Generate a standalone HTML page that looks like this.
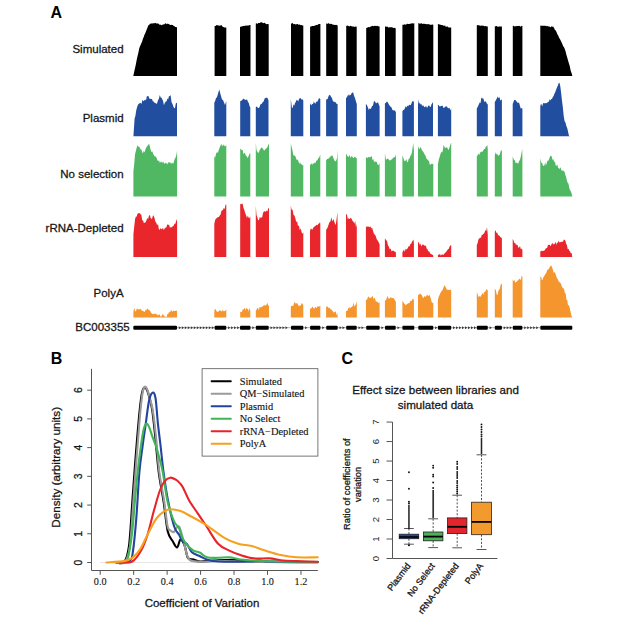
<!DOCTYPE html>
<html><head><meta charset="utf-8"><style>
html,body{margin:0;padding:0;background:#fff;}
body{width:625px;height:620px;position:relative;overflow:hidden;font-family:"Liberation Sans",sans-serif;}
</style></head><body>
<svg width="625" height="620" viewBox="0 0 625 620" style="position:absolute;left:0;top:0">
<path d="M133.3,76 L133.3,76 L134.14,72.04 L134.99,68.2 L135.83,64.39 L136.67,60.08 L137.51,56.27 L138.36,52.68 L139.2,48.6 L139.95,46.49 L140.7,44.68 L141.45,43.11 L142.2,41.2 L142.95,38.82 L143.7,37.02 L144.45,34.87 L145.2,33.16 L145.95,31.5 L146.7,29.39 L147.45,27.87 L148.2,25.6 L149.03,24.89 L149.87,24.07 L150.7,23.6 L151.5,23.52 L152.3,23.41 L153.1,23.15 L153.9,23.26 L154.7,23.29 L155.5,22.66 L156.3,23.85 L157.1,23 L157.95,23.92 L158.8,23.62 L159.65,24.88 L160.5,24.42 L161.35,25.16 L162.2,25.1 L162.96,24.36 L163.72,24.57 L164.48,24.34 L165.24,23.27 L166,23.6 L166.87,24.17 L167.73,23.5 L168.6,23.93 L169.47,24.45 L170.33,25.02 L171.2,24.8 L172.03,25.04 L172.86,24.97 L173.69,26.09 L174.51,26.16 L175.34,26.97 L176.17,27.03 L177,27.6 L177,76 Z M214.6,76 L214.6,26 L215.57,25.88 L216.55,25.04 L217.53,25.2 L218.5,25.48 L219.47,25.83 L220.45,25.5 L221.42,25.12 L222.4,26.4 L223.38,27 L224.35,27.4 L225.33,27.45 L226.3,27.6 L226.3,76 Z M240,76 L240,26.4 L240.88,26.96 L241.75,26.13 L242.62,26.25 L243.5,26 L244.38,26.1 L245.25,25.6 L246.12,25.65 L247,25.6 L247.88,25.4 L248.75,25.4 L249.62,25.12 L250.5,25 L250.5,76 Z M255.8,76 L255.8,23.6 L256.61,23.31 L257.41,24.09 L258.22,23.12 L259.02,23 L259.83,23.02 L260.64,22.17 L261.44,22.27 L262.25,22.5 L263.06,23.14 L263.86,23.03 L264.67,22.85 L265.48,23.5 L266.28,24.15 L267.09,24.09 L267.89,23.88 L268.7,24.3 L268.7,76 Z M291,76 L291,23.3 L291.82,23.87 L292.64,22.82 L293.46,24.13 L294.28,24.04 L295.1,24 L295.92,24.69 L296.74,24.1 L297.56,23.94 L298.38,24.66 L299.2,24.6 L300.02,24.86 L300.84,25.17 L301.66,25.03 L302.48,25.39 L303.3,25.4 L303.3,76 Z M310.1,76 L310.1,26.6 L310.96,26.7 L311.82,25.89 L312.68,26.05 L313.53,26 L314.39,25.78 L315.25,25.5 L316.11,25.03 L316.97,25 L317.82,24.78 L318.68,24.06 L319.54,23.93 L320.4,24.1 L320.4,76 Z M326.2,76 L326.2,23.3 L326.97,23.7 L327.73,23.66 L328.5,22.97 L329.27,23.88 L330.03,23.6 L330.8,24.13 L331.57,23.86 L332.33,24.17 L333.1,25.04 L333.87,24.5 L334.63,24.99 L335.4,24.91 L336.17,24.87 L336.93,25.35 L337.7,25.4 L337.7,76 Z M346.2,76 L346.2,25.9 L346.95,25.76 L347.7,25.6 L348.45,26.03 L349.2,26.43 L349.95,26 L350.7,25.87 L351.45,26.2 L352.2,26.61 L352.95,26.47 L353.7,26.54 L354.45,26.89 L355.2,26.54 L355.95,26.72 L356.7,26.6 L356.7,76 Z M366.2,76 L366.2,27.9 L367.09,27.87 L367.99,27.15 L368.88,26.95 L369.77,27.2 L370.67,26.5 L371.56,26.2 L372.45,25.77 L373.35,26.22 L374.24,25.76 L375.13,25.9 L376.03,25.74 L376.92,26.33 L377.81,25.87 L378.71,26.41 L379.6,26.6 L379.6,76 Z M385,76 L385,26.6 L385.76,26.6 L386.53,26.68 L387.29,26.48 L388.06,27.34 L388.82,27.59 L389.59,27.24 L390.35,27.2 L391.11,27.23 L391.88,27.22 L392.64,27.45 L393.41,27.97 L394.17,28.03 L394.94,27.83 L395.7,28.4 L395.7,76 Z M402.4,76 L402.4,24.8 L403.25,24.68 L404.1,24.66 L404.95,24.01 L405.8,24.99 L406.65,24.01 L407.5,23.68 L408.35,24 L409.2,23.98 L410.05,23.76 L410.9,23.52 L411.75,23.46 L412.6,23.32 L413.45,23.53 L414.3,23.3 L414.3,76 Z M418.3,76 L418.3,23.3 L419.05,22.93 L419.8,24.05 L420.55,23.41 L421.3,22.91 L422.05,23.91 L422.8,23.86 L423.55,23.81 L424.3,23.76 L425.05,23.98 L425.8,24 L426.55,24.21 L427.3,24.26 L428.05,24.01 L428.8,24.27 L429.55,24.43 L430.3,24.8 L431.05,24.84 L431.8,24.72 L432.55,24.41 L433.3,24.8 L433.3,76 Z M437.9,76 L437.9,24.1 L438.79,24.24 L439.67,24.55 L440.56,24.8 L441.45,24.94 L442.33,25 L443.22,25.42 L444.11,26.04 L444.99,25.29 L445.88,26.95 L446.77,26.5 L447.65,26.53 L448.54,27.53 L449.43,27.4 L450.31,27.45 L451.2,27.4 L451.2,76 Z M476.8,76 L476.8,25.4 L477.59,24.97 L478.37,25.36 L479.16,25.21 L479.94,25.86 L480.73,25.72 L481.51,25.55 L482.3,25.8 L483.09,25.46 L483.87,25.94 L484.66,26.18 L485.44,26.05 L486.23,26.3 L487.01,26.53 L487.8,26.6 L487.8,76 Z M494.8,76 L494.8,26.6 L495.59,26.23 L496.38,26 L497.17,26.21 L497.96,27.11 L498.74,26.56 L499.53,26.55 L500.32,26.49 L501.11,26.62 L501.9,26.6 L501.9,76 Z M512.8,76 L512.8,25.9 L513.6,25.66 L514.4,26.48 L515.2,26.22 L516,26.22 L516.8,26.06 L517.6,25.96 L518.4,26.05 L519.2,25.85 L520,26.28 L520.8,26.64 L521.6,25.81 L522.4,25.9 L522.4,76 Z M540.3,76 L540.3,25.4 L541.14,25.68 L541.97,25.84 L542.81,25.78 L543.65,25.83 L544.49,25.74 L545.33,25.8 L546.16,26.32 L547,25.8 L547.76,26.14 L548.52,26.4 L549.29,26.16 L550.05,27.31 L550.81,27.09 L551.58,26.35 L552.34,26.86 L553.1,26.6 L553.97,27.64 L554.83,29.65 L555.7,30.5 L556.53,31.99 L557.37,34.21 L558.2,35.6 L559.07,37.78 L559.93,39.03 L560.8,40.7 L561.56,42.19 L562.32,43.99 L563.08,45.9 L563.84,46.91 L564.6,48.4 L565.47,50.95 L566.33,54.6 L567.2,57.4 L568.07,60.56 L568.93,63.42 L569.8,66.3 L570.63,70.45 L571.47,72.69 L572.3,75.8 L572.3,76 Z" fill="#000000"/>
<path d="M133.4,136.3 L133.4,136.4 L134.6,118.4 L135.4,115.89 L136.2,110.57 L137,107.6 L137.9,104.83 L138.8,103.66 L139.7,103.36 L140.6,102.8 L141.5,103.88 L142.4,99.69 L143.3,101.22 L144.2,100.4 L145.1,99.55 L146,100.51 L146.9,96.02 L147.8,96.3 L148.6,96.32 L149.4,98.76 L150.2,98.7 L151.1,98.95 L152,99.05 L152.9,101.54 L153.8,101.6 L154.6,102.96 L155.4,102.71 L156.2,104 L157.1,103.13 L158,100.33 L158.9,98.81 L159.8,94.9 L160.6,97.45 L161.4,97.55 L162.2,99.2 L163.05,100.72 L163.9,105.2 L164.85,102.7 L165.8,101.6 L166.6,101.28 L167.4,98.45 L168.2,99.2 L169,95.94 L169.8,96.14 L170.6,94.9 L171.55,102.15 L172.5,104 L173.35,106.56 L174.2,108.3 L175,107.89 L175.8,103.58 L176.6,102.8 L177,103 L177,136.3 Z M214.3,136.3 L214.3,102.8 L215.15,100.88 L216,98 L216.82,97.44 L217.65,94.94 L218.48,91.9 L219.3,89.6 L220.15,93.12 L221,96 L222,99.44 L223,100 L224,102.5 L225,105 L226.3,101 L226.3,136.3 Z M240.2,136.3 L240.2,101 L241.13,100.91 L242.07,100.04 L243,99.2 L243.75,98.56 L244.5,99.4 L245.25,99.72 L246,100 L247,99.13 L248,102 L248.77,103.08 L249.53,105.96 L250.3,107.6 L250.3,136.3 Z M255.8,136.3 L255.8,106.9 L256.9,106.45 L258,108 L258.75,108.09 L259.5,107.14 L260.25,104.67 L261,104 L261.88,103.68 L262.76,101.89 L263.64,101.51 L264.52,98.72 L265.4,98 L266.17,97.54 L266.95,98.08 L267.73,98.32 L268.5,100.4 L268.5,136.3 Z M290.8,136.3 L290.8,98.7 L292,108.3 L292.75,107.53 L293.5,104.26 L294.25,105.68 L295,103 L295.8,102.12 L296.6,99.76 L297.4,100.21 L298.2,101.56 L299,99 L299.75,98.18 L300.5,98 L301.43,99.39 L302.37,99.26 L303.3,100.4 L303.3,136.3 Z M310,136.3 L310,105.2 L310.75,103.32 L311.5,105.44 L312.25,104.07 L313,104 L313.8,101.45 L314.6,103.1 L315.4,103.79 L316.2,101.42 L317,102 L318,100.6 L319,98 L320.3,99 L320.3,136.3 Z M326.1,136.3 L326.1,99.2 L326.96,99.43 L327.82,98.39 L328.68,95.86 L329.54,94.85 L330.4,95.6 L331.2,97 L332,98 L333,101.39 L334,101.6 L334.9,102.2 L335.8,102.13 L336.7,104.08 L337.6,104 L337.6,136.3 Z M346,136.3 L346,98 L346.75,97.56 L347.5,95.9 L348.25,94.21 L349,96 L349.84,94.54 L350.68,95.25 L351.52,93.2 L352.36,92.48 L353.2,92.5 L354.1,96.09 L355,98 L355.9,101.21 L356.8,104 L356.8,136.3 Z M365.9,136.3 L365.9,104 L366.87,104.97 L367.83,107.25 L368.8,110 L369.6,108.34 L370.4,108.94 L371.2,108.28 L372,106 L372.93,105.86 L373.87,101.5 L374.8,101.1 L375.9,103.3 L377,103 L377.87,101.89 L378.73,104.25 L379.6,106.4 L379.6,136.3 Z M384.9,136.3 L384.9,103.5 L385.85,102.68 L386.8,101.5 L387.6,102.04 L388.4,103.59 L389.2,104.93 L390,106 L390.75,107.03 L391.5,107.17 L392.25,109.81 L393,110 L393.97,110.68 L394.93,110.26 L395.9,112.4 L395.9,136.3 Z M402.4,136.3 L402.4,111.2 L403.27,110.06 L404.13,109.79 L405,108 L405.8,106.03 L406.6,107.54 L407.4,105.51 L408.2,106.2 L409,105 L409.84,104.64 L410.68,105.17 L411.52,103.18 L412.36,101.13 L413.2,101.1 L413.9,102 L413.9,136.3 Z M418,136.3 L418,99.2 L419,104 L419.8,102.43 L420.6,104.51 L421.4,104.02 L422.2,106.35 L423,105 L423.8,106.26 L424.6,107.24 L425.4,106.81 L426.2,105.98 L427,108 L427.75,106.87 L428.5,105.4 L429.25,105.38 L430,107 L430.75,106.73 L431.5,104.34 L432.25,103.15 L433,102 L433,136.3 Z M437.9,136.3 L437.9,104.6 L438.67,105.17 L439.45,106.19 L440.23,106.5 L441,106 L441.83,105.64 L442.67,105.68 L443.5,107.92 L444.33,107.69 L445.17,106.2 L446,107 L446.87,106.04 L447.73,107.95 L448.6,108.29 L449.47,107.68 L450.33,110.4 L451.2,108.4 L451.2,136.3 Z M476.8,136.3 L476.8,108.4 L477.9,106.52 L479,104 L479.75,102.24 L480.5,103.14 L481.25,98.22 L482,97.6 L482.75,98.67 L483.5,98.49 L484.25,102.2 L485,101 L485.93,101.77 L486.87,103.6 L487.8,104.6 L487.8,136.3 Z M494.8,136.3 L494.8,102 L495.9,100.24 L497,98 L497.83,96.54 L498.67,98.32 L499.5,96.9 L500.3,100.76 L501.1,99.41 L501.9,100 L501.9,136.3 Z M512.7,136.3 L512.7,104 L513.47,102.02 L514.23,100.11 L515,100 L515.75,100.21 L516.5,101.53 L517.25,102.22 L518,103 L519,102.61 L520,106 L520.8,108.87 L521.6,107.89 L522.4,108.4 L522.4,136.3 Z M540.3,136.3 L540.3,105.8 L541.22,103.47 L542.15,106.52 L543.08,103.27 L544,103 L544.8,103.46 L545.6,102.94 L546.4,103.37 L547.2,102.82 L548,102 L548.8,101.69 L549.6,99.36 L550.4,100.45 L551.2,99.03 L552,99 L552.8,96.98 L553.6,96.04 L554.4,93.7 L555.2,92.3 L556,90 L556.88,87.83 L557.75,85.81 L558.62,83.26 L559.5,82.8 L560.33,86.58 L561.17,93.14 L562,100.7 L562.87,107.47 L563.73,116.16 L564.6,121.2 L565.47,122.62 L566.33,126.11 L567.2,128.12 L568.07,131.72 L568.93,135.8 L569.8,136.3 L569.8,136.3 Z" fill="#224ea0"/>
<path d="M133.4,196.4 L133.4,171.2 L134.2,164.34 L135,154.4 L135.83,150.92 L136.67,147.79 L137.5,145.3 L138.28,146.62 L139.05,146.76 L139.82,147.72 L140.6,149.6 L141.4,149.5 L142.2,152.34 L143,153.2 L143.8,150.87 L144.6,152.56 L145.4,149.6 L146.3,147.59 L147.2,146.05 L148.1,145.28 L149,143.6 L149.8,146.37 L150.6,149.81 L151.4,152 L152.3,151.14 L153.2,154.12 L154.1,155.52 L155,156.8 L155.8,156.16 L156.6,157.97 L157.4,160.21 L158.2,161.37 L159,160.18 L159.8,162.8 L160.6,162.04 L161.4,161.54 L162.2,163.19 L163,161.32 L163.8,162.71 L164.6,163.91 L165.4,162.45 L166.2,163.69 L167,162.8 L167.75,164.41 L168.5,162.02 L169.25,162.3 L170,162.58 L170.75,163.01 L171.5,163.75 L172.25,162.34 L173,164 L173.8,162.24 L174.6,159.19 L175.4,158 L176.25,155.51 L177.1,150.8 L177.1,196.4 Z M214.3,196.4 L214.3,156.3 L215.2,157.41 L216.1,153.42 L217,152 L217.82,152.96 L218.65,150.29 L219.48,148.08 L220.3,146 L221.2,143.81 L222.1,145.93 L223,145.5 L223.82,144.58 L224.65,146.26 L225.48,146.19 L226.3,144.8 L226.3,196.4 Z M240.2,196.4 L240.2,148.4 L241.1,149.45 L242,150 L242.75,150.33 L243.5,154.38 L244.25,152.65 L245,153.2 L245.8,155.56 L246.6,155.92 L247.4,158 L248.37,156.86 L249.33,153.95 L250.3,153.2 L250.3,196.4 Z M255.8,196.4 L255.8,142.9 L256.5,150 L257.35,151.7 L258.2,153.2 L259.1,151.54 L260,149.56 L260.9,148.18 L261.8,147.2 L262.6,148.23 L263.4,149.4 L264.2,150.8 L265.13,149.55 L266.07,148.51 L267,148 L268,145.39 L269,143.6 L269,196.4 Z M290.8,196.4 L290.8,142.9 L291.6,146.89 L292.4,150.07 L293.2,154.4 L294,155.65 L294.8,155.39 L295.6,156.8 L296.5,159.74 L297.4,159.52 L298.3,160.83 L299.2,164 L300.02,162.01 L300.84,164.15 L301.66,164.18 L302.48,165.3 L303.3,165.2 L303.3,196.4 Z M310,196.4 L310,165.2 L310.75,164.32 L311.5,163.31 L312.25,164.9 L313,162.94 L313.75,164 L314.5,162.59 L315.25,163.32 L316,161.6 L316.75,160.37 L317.5,160.29 L318.25,157.91 L319,158 L320.3,154.4 L320.3,196.4 Z M326.1,196.4 L326.1,160.4 L326.89,159.36 L327.67,158.74 L328.46,158.5 L329.24,158.17 L330.03,156.14 L330.81,156.87 L331.6,155.6 L332.5,155.54 L333.4,158.01 L334.3,160.16 L335.2,161.6 L336.1,160.71 L337,158 L337.6,150 L337.6,196.4 Z M346,196.4 L346,153.2 L347,155.58 L348,156.8 L348.8,156.73 L349.6,154.67 L350.4,157.99 L351.2,156.61 L352,156 L352.8,157.42 L353.6,158.19 L354.4,157.12 L355.2,156.43 L356,158.16 L356.8,158 L356.8,196.4 Z M365.9,196.4 L365.9,158 L366.72,157.09 L367.54,158.19 L368.36,156.78 L369.18,157.6 L370,157 L370.83,157.04 L371.67,155.73 L372.5,159.92 L373.33,159.06 L374.17,162.3 L375,161 L375.85,162.19 L376.7,161.7 L377.55,164.5 L378.4,165.2 L379.6,163 L379.6,196.4 Z M384.9,196.4 L384.9,153.2 L386,160 L386.8,158.91 L387.6,158.42 L388.4,159.02 L389.2,160.18 L390,160.4 L390.75,160.03 L391.5,159.45 L392.25,158.94 L393,158 L393.97,157.37 L394.93,156.99 L395.9,154.4 L395.9,196.4 Z M402.4,196.4 L402.4,155.6 L403.2,157.26 L404,160 L404.8,161.31 L405.6,160.81 L406.4,159.1 L407.2,162.43 L408,161.6 L408.8,158.44 L409.6,158.51 L410.4,155.75 L411.2,154.93 L412,152 L413.2,142.9 L413.9,150 L413.9,196.4 Z M418,196.4 L418,146 L418.9,148.66 L419.8,148.77 L420.7,146.84 L421.6,149.6 L422.45,151.08 L423.3,151.85 L424.15,153.43 L425,155 L425.75,156.26 L426.5,158.75 L427.25,159.34 L428,160.5 L428.93,160.73 L429.87,165.04 L430.8,164.3 L431.63,163.86 L432.47,163.78 L433.3,164.3 L433.3,196.4 Z M437.9,196.4 L437.9,164.3 L438.77,159.55 L439.63,157.06 L440.5,154 L441.26,151.5 L442.02,152.78 L442.78,150.8 L443.54,145.11 L444.3,146.4 L445.08,147.89 L445.86,147.75 L446.64,147.19 L447.42,147.87 L448.2,150.2 L449.13,148.57 L450.07,145.45 L451,143 L451.2,143 L451.2,196.4 Z M476.8,196.4 L476.8,155.4 L477.57,155.82 L478.33,153.2 L479.1,155.37 L479.87,153.29 L480.63,151.99 L481.4,151.5 L482.3,151.93 L483.2,150.41 L484.1,149.12 L485,149 L485.8,146.57 L486.6,146.59 L487.4,145.1 L487.8,150 L487.8,196.4 Z M494.8,196.4 L494.8,155.4 L495.64,152.31 L496.48,154.38 L497.32,153.69 L498.16,156.03 L499,155 L499.83,154.43 L500.67,150.94 L501.5,149.7 L501.9,152 L501.9,196.4 Z M512.7,196.4 L512.7,156.6 L514,160 L514.83,160.21 L515.65,163.21 L516.47,162.53 L517.3,163 L518.2,163.66 L519.1,160.93 L520,160 L521.1,155.21 L522.2,149 L522.4,156 L522.4,196.4 Z M540.3,196.4 L540.3,157.9 L541.17,162.68 L542.03,162.6 L542.9,165.6 L543.66,166.04 L544.42,165.35 L545.18,162.16 L545.94,165.69 L546.7,163 L547.56,160.48 L548.42,160.79 L549.28,158.45 L550.14,156.2 L551,155.4 L551.78,156.68 L552.57,159.91 L553.35,158.99 L554.13,162.3 L554.92,161.14 L555.7,165.6 L556.53,165.69 L557.37,164.48 L558.2,168.2 L558.98,168.11 L559.76,169.37 L560.54,166.97 L561.32,169.99 L562.1,170.8 L562.93,170.44 L563.77,170.93 L564.6,172 L565.37,174.94 L566.14,177.24 L566.91,180.62 L567.68,183.02 L568.45,183.62 L569.22,187.72 L569.99,190.1 L570.76,191.36 L571.53,193.35 L572.3,196.4 L572.3,196.4 Z" fill="#50b862"/>
<path d="M133.4,256.9 L133.4,234.6 L134.25,225.92 L135.1,219 L135.88,216.59 L136.65,216.8 L137.42,213.96 L138.2,213 L139,213.6 L139.8,212.88 L140.6,214.2 L141.4,215.06 L142.2,220.58 L143,220.2 L143.8,223.01 L144.6,222.72 L145.4,222.6 L146.3,220.72 L147.2,217.92 L148.1,218.89 L149,215.4 L149.8,215.11 L150.6,217.74 L151.4,219 L152.2,218.21 L153,215.16 L153.8,216.1 L154.6,218.14 L155.4,221.76 L156.2,222.6 L157.1,225.28 L158,223.99 L158.9,229.37 L159.8,229.8 L160.6,228.06 L161.4,229.26 L162.2,228.98 L163,227.8 L163.8,230.15 L164.6,228.6 L165.5,227.72 L166.4,227.21 L167.3,224.27 L168.2,225 L169.1,224.5 L170,228.06 L170.9,226.75 L171.8,227.4 L172.7,226.22 L173.6,225.69 L174.5,223.66 L175.4,223.8 L176.6,219 L177.1,222 L177.1,256.9 Z M214.3,256.9 L214.3,223.8 L215.2,219.67 L216.1,218.46 L217,218 L217.93,216.97 L218.87,217.11 L219.8,215.4 L220.6,214.6 L221.4,210.96 L222.2,210.22 L223,210 L223.82,207.67 L224.65,209.24 L225.48,204.71 L226.3,204.6 L226.3,256.9 Z M240.2,256.9 L240.2,204.6 L241,203.43 L241.8,204.34 L242.6,203.4 L243.5,208.09 L244.4,210.18 L245.3,213.31 L246.2,215.4 L247,217.95 L247.8,215.49 L248.6,217.8 L249.45,217.91 L250.3,216.6 L250.3,256.9 Z M255.8,256.9 L255.8,205.8 L256.5,215 L257.35,217.34 L258.2,220.2 L259,220.07 L259.8,217.07 L260.6,217.85 L261.4,217.5 L262.2,217.14 L263,213 L263.9,211.45 L264.8,211.28 L265.7,211.84 L266.6,210.6 L267.4,211.42 L268.2,208.17 L269,208.2 L269,256.9 Z M290.8,256.9 L290.8,205.8 L291.7,209.86 L292.6,209.76 L293.5,214.85 L294.4,215.4 L295.3,217.92 L296.2,221.91 L297.1,221.14 L298,226.2 L298.9,225.36 L299.8,230.3 L300.7,228.19 L301.6,232.2 L302.45,233.71 L303.3,232.2 L303.3,256.9 Z M310,256.9 L310,231 L310.8,228.61 L311.6,228.97 L312.4,229.65 L313.2,227.86 L314,226.97 L314.8,226.2 L315.7,225.78 L316.6,224.66 L317.5,225.22 L318.4,223.8 L319.2,223.59 L320,222 L320.3,223.8 L320.3,256.9 Z M326.1,256.9 L326.1,229.8 L326.96,228.68 L327.82,226.95 L328.68,224.14 L329.54,221.97 L330.4,221.4 L331.37,217.21 L332.33,221.61 L333.3,219 L334.1,221.1 L334.9,223.49 L335.7,225 L336.55,219.2 L337.4,212.3 L337.6,225 L337.6,256.9 Z M346,256.9 L346,214.2 L346.9,214.48 L347.8,219 L348.7,218.16 L349.6,219 L350.8,217.8 L351.7,218.95 L352.6,220.92 L353.5,221.83 L354.4,223.8 L355.2,220.81 L356,227.48 L356.8,223.8 L356.8,256.9 Z M365.9,256.9 L365.9,226.2 L366.66,226.95 L367.41,226.51 L368.17,226.13 L368.93,227.08 L369.69,226.88 L370.44,226.23 L371.2,228.6 L372.1,227.61 L373,230.65 L373.9,233.65 L374.8,234.6 L375.7,235.98 L376.6,238.92 L377.5,240.27 L378.4,241.8 L379.6,244.2 L379.6,256.9 Z M384.9,256.9 L384.9,238.2 L386,240 L387,240.93 L388,245.4 L388.9,246.81 L389.8,249.54 L390.7,248.42 L391.6,251.4 L392.46,250.76 L393.32,250.59 L394.18,251.46 L395.04,251.4 L395.9,252.6 L395.9,256.9 Z M402.4,256.9 L402.4,252.6 L403.2,250.86 L404,249.53 L404.8,251.94 L405.6,248.76 L406.4,249.4 L407.2,249 L408,247.4 L408.8,246 L409.6,246.52 L410.4,243.93 L411.2,243.72 L412,241.8 L413.4,239.4 L413.9,243 L413.9,256.9 Z M418,256.9 L418,243 L418.8,241.66 L419.6,244.94 L420.4,243.31 L421.2,246.48 L422,245.2 L422.8,244.2 L423.57,244.91 L424.33,245.19 L425.1,246.2 L425.88,245.26 L426.66,248.69 L427.44,249.12 L428.22,251.38 L429,251 L429.76,252.48 L430.52,253.64 L431.28,254.17 L432.04,254.25 L432.8,255.2 L433.3,255.2 L433.3,256.9 Z M437.9,256.9 L437.9,254.4 L438.68,255.08 L439.46,253.85 L440.24,255.75 L441.02,254.11 L441.8,255.2 L442.56,254.18 L443.32,255.09 L444.08,254.07 L444.84,253.09 L445.6,252.6 L446.4,251.42 L447.2,250.2 L448,249.31 L448.8,248.76 L449.6,246.6 L450.4,245.59 L451.2,245 L451.2,256.9 Z M476.8,256.9 L476.8,245 L477.65,242.94 L478.5,239.15 L479.35,238.55 L480.2,237.2 L480.96,238.19 L481.72,234.64 L482.48,235.03 L483.24,234.07 L484,233.4 L484.75,231.93 L485.5,229.86 L486.25,231.25 L487,227 L487.8,235 L487.8,256.9 Z M494.8,256.9 L494.8,232.1 L495.6,229.95 L496.4,233.08 L497.2,232.51 L498,234.7 L498.78,235.41 L499.56,235.73 L500.34,237.3 L501.12,237.37 L501.9,238.5 L501.9,256.9 Z M512.7,256.9 L512.7,239 L513.53,240.56 L514.35,242.91 L515.17,243.06 L516,245 L516.8,244.56 L517.6,245.23 L518.4,247.77 L519.2,247.55 L520,245.92 L520.8,249.28 L521.6,248.6 L522.4,250 L522.4,256.9 Z M540.3,256.9 L540.3,251.3 L541.11,251.31 L541.93,250.52 L542.74,251.31 L543.56,250.67 L544.37,250.61 L545.19,249.45 L546,248 L547,248.2 L548,244.9 L548.85,244.8 L549.7,244.69 L550.55,246.2 L551.4,244.54 L552.25,242.64 L553.1,244.2 L553.9,244.19 L554.7,243.86 L555.5,241.67 L556.3,244.98 L557.1,242.2 L557.9,243.05 L558.7,240.53 L559.5,242.4 L560.35,242.36 L561.2,241.69 L562.05,241.67 L562.9,241.72 L563.75,239.64 L564.6,239.8 L565.38,240.67 L566.16,243.74 L566.94,245.28 L567.72,249.29 L568.5,248.8 L569.26,250.73 L570.02,251.25 L570.78,253.32 L571.54,252.81 L572.3,257 L572.3,256.9 Z" fill="#e9262b"/>
<path d="M133.4,317.5 L133.4,311.6 L134.3,307.89 L135.2,311.4 L136.1,310.75 L137,308 L137.8,309.58 L138.6,309.32 L139.4,309.2 L140.3,308.79 L141.2,309.65 L142.1,311 L143,310.4 L143.9,311.65 L144.8,311.74 L145.7,309.38 L146.6,309.9 L147.5,308.23 L148.4,309.84 L149.3,309.95 L150.2,310.9 L151,312.69 L151.8,313.43 L152.6,314 L153.4,314.17 L154.2,314.01 L155,313.36 L155.8,314.26 L156.6,314.33 L157.4,314.7 L158.15,315.77 L158.9,314.24 L159.65,314.51 L160.4,316.16 L161.15,316.9 L161.9,315.11 L162.65,314.05 L163.4,315.2 L164.2,315.61 L165,317 L165.8,316.4 L166.6,317 L167.4,313.97 L168.2,314 L169.1,311.57 L170,312.77 L170.9,310.15 L171.8,310.4 L172.6,311.96 L173.4,310.47 L174.2,310.9 L175.17,311.1 L176.13,310.3 L177.1,311.6 L177.1,317.5 Z M214.3,317.5 L214.3,310.4 L215.23,308.73 L216.15,310.52 L217.07,311.67 L218,312 L219,310.75 L220,310 L220.75,311.11 L221.5,311.8 L222.25,309.62 L223,311.6 L223.82,310.66 L224.65,311.23 L225.48,310.52 L226.3,309 L226.3,317.5 Z M240.2,317.5 L240.2,311.6 L241,311.88 L241.8,312.31 L242.6,309.51 L243.4,309.62 L244.2,308.42 L245,308 L245.76,310.61 L246.51,307.54 L247.27,309.25 L248.03,308.81 L248.79,311.87 L249.54,307.72 L250.3,310.4 L250.3,317.5 Z M255.8,317.5 L255.8,310.4 L256.55,309.87 L257.3,308.12 L258.05,307.75 L258.8,310.57 L259.55,307.32 L260.3,307.11 L261.05,307.44 L261.8,306.8 L262.6,306.51 L263.4,305.71 L264.2,304.68 L265,305.86 L265.8,305.53 L266.6,304.4 L267.4,302.63 L268.2,305.73 L269,305.6 L269,317.5 Z M290.8,317.5 L290.8,306.8 L291.6,305.69 L292.4,305.86 L293.2,306.07 L294,303.22 L294.8,301.86 L295.6,303.7 L296.48,303.26 L297.36,303.28 L298.24,305.12 L299.12,306.41 L300,305 L300.82,305.75 L301.65,303.29 L302.48,303.52 L303.3,305.6 L303.3,317.5 Z M310,317.5 L310,308 L310.83,309.02 L311.67,307.73 L312.5,306.4 L313.33,307.79 L314.17,309.2 L315,307 L315.76,307.37 L316.51,308.18 L317.27,306.84 L318.03,305.74 L318.79,307.12 L319.54,306.21 L320.3,305.6 L320.3,317.5 Z M326.1,317.5 L326.1,306.8 L326.96,306.62 L327.82,306.86 L328.68,308.17 L329.54,307.61 L330.4,309.2 L331.3,309.18 L332.2,310.74 L333.1,311.45 L334,312.8 L334.9,311.66 L335.8,311.55 L336.7,315.56 L337.6,312.8 L337.6,317.5 Z M346,317.5 L346,310.4 L346.75,311.2 L347.5,310.71 L348.25,307.4 L349,308.91 L349.75,306.83 L350.5,308.28 L351.25,306.91 L352,306.8 L352.8,306.12 L353.6,302.53 L354.4,306.66 L355.2,305.2 L356,304 L356.8,300.8 L356.8,317.5 Z M365.9,317.5 L365.9,299.6 L366.66,299.88 L367.41,298.81 L368.17,296.28 L368.93,297.34 L369.69,297.82 L370.44,298.33 L371.2,297.2 L371.96,297.03 L372.72,295.68 L373.48,299.48 L374.24,297.56 L375,298.4 L375.85,301.61 L376.7,301.51 L377.55,301.67 L378.4,303.2 L379.6,302 L379.6,317.5 Z M384.9,317.5 L384.9,299.6 L385.75,300.84 L386.6,298.62 L387.45,295.87 L388.3,298.19 L389.15,298.4 L390,298.4 L390.75,296.84 L391.5,298.09 L392.25,298.11 L393,298 L393.97,298.58 L394.93,300.32 L395.9,302 L395.9,317.5 Z M402.4,317.5 L402.4,300.8 L403.3,301.88 L404.2,303.44 L405.1,304.38 L406,305.6 L406.8,304.11 L407.6,303.82 L408.4,303.02 L409.2,303.55 L410,301.58 L410.8,300.8 L411.57,300.97 L412.35,298.86 L413.12,299.89 L413.9,297.9 L413.9,317.5 Z M418,317.5 L418,294.8 L419,294.86 L420,293.4 L420.76,293.95 L421.52,295.08 L422.28,295.98 L423.04,298.17 L423.8,297.2 L424.67,295.88 L425.53,296.92 L426.4,295.73 L427.27,294.4 L428.13,296.32 L429,295.4 L429.76,294.97 L430.52,297.83 L431.28,300.45 L432.04,303.33 L432.8,302.4 L433.3,302.4 L433.3,317.5 Z M437.9,317.5 L437.9,299.8 L438.68,296.67 L439.46,295.34 L440.24,293.33 L441.02,291.96 L441.8,290.8 L442.55,290.09 L443.3,288.05 L444.05,286.13 L444.8,285.2 L445.9,287.66 L447,290 L447.84,289.54 L448.68,289.9 L449.52,290.01 L450.36,289.57 L451.2,290.8 L451.2,317.5 Z M476.8,317.5 L476.8,292.1 L477.6,294.16 L478.4,297.2 L479.2,295.72 L480,296.95 L480.8,296.21 L481.6,294.65 L482.4,292.85 L483.2,295.08 L484,292.1 L484.76,292.13 L485.52,291.14 L486.28,288.64 L487.04,290.4 L487.8,289.6 L487.8,317.5 Z M494.8,317.5 L494.8,288.3 L495.8,290.34 L496.8,294.7 L497.6,295.01 L498.4,290.72 L499.2,289.77 L500,288 L500.95,283.47 L501.9,284.4 L501.9,317.5 Z M512.7,317.5 L512.7,279.3 L513.53,281.19 L514.35,279.79 L515.17,282.69 L516,281.9 L516.8,281.85 L517.6,280.53 L518.4,280.17 L519.2,278.74 L520,279 L520.8,280.23 L521.6,275.65 L522.4,276.8 L522.4,317.5 Z M540.3,317.5 L540.3,276.8 L541.15,276.83 L542,280.6 L542.78,279.13 L543.57,276.86 L544.35,276.02 L545.13,274.25 L545.92,273.75 L546.7,271.6 L547.58,269.62 L548.46,269.39 L549.34,267.69 L550.22,266.45 L551.1,265.2 L552.1,267.27 L553.1,270.4 L553.88,273.3 L554.66,271.83 L555.44,273.48 L556.22,276.37 L557,278 L557.76,279.25 L558.52,281.16 L559.28,281.81 L560.04,283.08 L560.8,283.2 L561.67,285.96 L562.53,287.84 L563.4,288.3 L564.16,289.52 L564.92,292.95 L565.68,293.59 L566.44,299.83 L567.2,299.8 L568.05,305.78 L568.9,304.67 L569.75,308.34 L570.6,311.96 L571.45,315.74 L572.3,317.5 L572.3,317.5 Z" fill="#f4952d"/>
<line x1="177" y1="327.7" x2="540.3" y2="327.7" stroke="#777" stroke-width="0.6"/>
<path d="M178.8,326.2 L181,327.7 L178.8,329.2 Z M181.8,326.2 L184,327.7 L181.8,329.2 Z M184.8,326.2 L187,327.7 L184.8,329.2 Z M187.8,326.2 L190,327.7 L187.8,329.2 Z M190.8,326.2 L193,327.7 L190.8,329.2 Z M193.8,326.2 L196,327.7 L193.8,329.2 Z M196.8,326.2 L199,327.7 L196.8,329.2 Z M199.8,326.2 L202,327.7 L199.8,329.2 Z M202.8,326.2 L205,327.7 L202.8,329.2 Z M205.8,326.2 L208,327.7 L205.8,329.2 Z M208.8,326.2 L211,327.7 L208.8,329.2 Z M211.8,326.2 L214,327.7 L211.8,329.2 Z M228.1,326.2 L230.3,327.7 L228.1,329.2 Z M231.1,326.2 L233.3,327.7 L231.1,329.2 Z M234.1,326.2 L236.3,327.7 L234.1,329.2 Z M237.1,326.2 L239.3,327.7 L237.1,329.2 Z M252.3,326.2 L254.5,327.7 L252.3,329.2 Z M270.5,326.2 L272.7,327.7 L270.5,329.2 Z M273.5,326.2 L275.7,327.7 L273.5,329.2 Z M276.5,326.2 L278.7,327.7 L276.5,329.2 Z M279.5,326.2 L281.7,327.7 L279.5,329.2 Z M282.5,326.2 L284.7,327.7 L282.5,329.2 Z M285.5,326.2 L287.7,327.7 L285.5,329.2 Z M305.1,326.2 L307.3,327.7 L305.1,329.2 Z M322.2,326.2 L324.4,327.7 L322.2,329.2 Z M339.5,326.2 L341.7,327.7 L339.5,329.2 Z M342.5,326.2 L344.7,327.7 L342.5,329.2 Z M358.5,326.2 L360.7,327.7 L358.5,329.2 Z M361.5,326.2 L363.7,327.7 L361.5,329.2 Z M381.4,326.2 L383.6,327.7 L381.4,329.2 Z M397.5,326.2 L399.7,327.7 L397.5,329.2 Z M435.1,326.2 L437.3,327.7 L435.1,329.2 Z M453,326.2 L455.2,327.7 L453,329.2 Z M456,326.2 L458.2,327.7 L456,329.2 Z M459,326.2 L461.2,327.7 L459,329.2 Z M462,326.2 L464.2,327.7 L462,329.2 Z M465,326.2 L467.2,327.7 L465,329.2 Z M468,326.2 L470.2,327.7 L468,329.2 Z M471,326.2 L473.2,327.7 L471,329.2 Z M474,326.2 L476.2,327.7 L474,329.2 Z M489.6,326.2 L491.8,327.7 L489.6,329.2 Z M503.7,326.2 L505.9,327.7 L503.7,329.2 Z M506.7,326.2 L508.9,327.7 L506.7,329.2 Z M509.7,326.2 L511.9,327.7 L509.7,329.2 Z M524.2,326.2 L526.4,327.7 L524.2,329.2 Z M527.2,326.2 L529.4,327.7 L527.2,329.2 Z M530.2,326.2 L532.4,327.7 L530.2,329.2 Z M533.2,326.2 L535.4,327.7 L533.2,329.2 Z M536.2,326.2 L538.4,327.7 L536.2,329.2 Z" fill="#3a3a3a"/>
<rect x="133.3" y="325.7" width="43.7" height="4" rx="1" fill="#000"/>
<rect x="214.6" y="325.7" width="11.7" height="4" rx="1" fill="#000"/>
<rect x="240" y="325.7" width="10.5" height="4" rx="1" fill="#000"/>
<rect x="255.8" y="325.7" width="12.9" height="4" rx="1" fill="#000"/>
<rect x="291" y="325.7" width="12.3" height="4" rx="1" fill="#000"/>
<rect x="310.1" y="325.7" width="10.3" height="4" rx="1" fill="#000"/>
<rect x="326.2" y="325.7" width="11.5" height="4" rx="1" fill="#000"/>
<rect x="346.2" y="325.7" width="10.5" height="4" rx="1" fill="#000"/>
<rect x="366.2" y="325.7" width="13.4" height="4" rx="1" fill="#000"/>
<rect x="385" y="325.7" width="10.7" height="4" rx="1" fill="#000"/>
<rect x="402.4" y="325.7" width="11.9" height="4" rx="1" fill="#000"/>
<rect x="418.3" y="325.7" width="15" height="4" rx="1" fill="#000"/>
<rect x="437.9" y="325.7" width="13.3" height="4" rx="1" fill="#000"/>
<rect x="476.8" y="325.7" width="11" height="4" rx="1" fill="#000"/>
<rect x="494.8" y="325.7" width="7.1" height="4" rx="1" fill="#000"/>
<rect x="512.8" y="325.7" width="9.6" height="4" rx="1" fill="#000"/>
<rect x="540.3" y="325.7" width="32" height="4" rx="1" fill="#000"/>
<text x="50.6" y="17.5" font-family='"Liberation Sans", sans-serif' font-size="16" font-weight="bold" text-anchor="start" fill="#000" >A</text>
<text x="123.6" y="52.9" font-family='"Liberation Sans", sans-serif' font-size="11.5" font-weight="normal" text-anchor="end" fill="#161616" stroke="#161616" stroke-width="0.28" >Simulated</text>
<text x="123.6" y="121.8" font-family='"Liberation Sans", sans-serif' font-size="11.5" font-weight="normal" text-anchor="end" fill="#161616" stroke="#161616" stroke-width="0.28" >Plasmid</text>
<text x="123.6" y="178.2" font-family='"Liberation Sans", sans-serif' font-size="11.5" font-weight="normal" text-anchor="end" fill="#161616" stroke="#161616" stroke-width="0.28" >No selection</text>
<text x="123.6" y="232" font-family='"Liberation Sans", sans-serif' font-size="11.5" font-weight="normal" text-anchor="end" fill="#161616" stroke="#161616" stroke-width="0.28" >rRNA-Depleted</text>
<text x="123.6" y="296.9" font-family='"Liberation Sans", sans-serif' font-size="11.5" font-weight="normal" text-anchor="end" fill="#161616" stroke="#161616" stroke-width="0.28" >PolyA</text>
<text x="129.7" y="330.5" font-family='"Liberation Sans", sans-serif' font-size="11.5" font-weight="normal" text-anchor="end" fill="#161616" stroke="#161616" stroke-width="0.28" >BC003355</text>
<text x="50.8" y="364.2" font-family='"Liberation Sans", sans-serif' font-size="16" font-weight="bold" text-anchor="start" fill="#000" >B</text>
<path d="M91.5,368.8 L91.5,570.5 L317.8,570.5" fill="none" stroke="#555" stroke-width="1"/>
<line x1="87.2" y1="562.5" x2="91.5" y2="562.5" stroke="#555" stroke-width="1"/>
<text x="82.1" y="562.5" font-family='"Liberation Sans", sans-serif' font-size="10.4" font-weight="normal" text-anchor="middle" fill="#161616" stroke="#161616" stroke-width="0.28" transform="rotate(-90 82.1 562.5)">0</text>
<line x1="87.2" y1="533.78" x2="91.5" y2="533.78" stroke="#555" stroke-width="1"/>
<text x="82.1" y="533.78" font-family='"Liberation Sans", sans-serif' font-size="10.4" font-weight="normal" text-anchor="middle" fill="#161616" stroke="#161616" stroke-width="0.28" transform="rotate(-90 82.1 533.78)">1</text>
<line x1="87.2" y1="505.06" x2="91.5" y2="505.06" stroke="#555" stroke-width="1"/>
<text x="82.1" y="505.06" font-family='"Liberation Sans", sans-serif' font-size="10.4" font-weight="normal" text-anchor="middle" fill="#161616" stroke="#161616" stroke-width="0.28" transform="rotate(-90 82.1 505.06)">2</text>
<line x1="87.2" y1="476.34" x2="91.5" y2="476.34" stroke="#555" stroke-width="1"/>
<text x="82.1" y="476.34" font-family='"Liberation Sans", sans-serif' font-size="10.4" font-weight="normal" text-anchor="middle" fill="#161616" stroke="#161616" stroke-width="0.28" transform="rotate(-90 82.1 476.34)">3</text>
<line x1="87.2" y1="447.62" x2="91.5" y2="447.62" stroke="#555" stroke-width="1"/>
<text x="82.1" y="447.62" font-family='"Liberation Sans", sans-serif' font-size="10.4" font-weight="normal" text-anchor="middle" fill="#161616" stroke="#161616" stroke-width="0.28" transform="rotate(-90 82.1 447.62)">4</text>
<line x1="87.2" y1="418.9" x2="91.5" y2="418.9" stroke="#555" stroke-width="1"/>
<text x="82.1" y="418.9" font-family='"Liberation Sans", sans-serif' font-size="10.4" font-weight="normal" text-anchor="middle" fill="#161616" stroke="#161616" stroke-width="0.28" transform="rotate(-90 82.1 418.9)">5</text>
<line x1="87.2" y1="390.18" x2="91.5" y2="390.18" stroke="#555" stroke-width="1"/>
<text x="82.1" y="390.18" font-family='"Liberation Sans", sans-serif' font-size="10.4" font-weight="normal" text-anchor="middle" fill="#161616" stroke="#161616" stroke-width="0.28" transform="rotate(-90 82.1 390.18)">6</text>
<line x1="100.2" y1="570.5" x2="100.2" y2="574.8" stroke="#555" stroke-width="1"/>
<text x="100.2" y="585" font-family='"Liberation Serif", serif' font-size="10.2" font-weight="normal" text-anchor="middle" fill="#161616" stroke="#161616" stroke-width="0.12" >0.0</text>
<line x1="133.66" y1="570.5" x2="133.66" y2="574.8" stroke="#555" stroke-width="1"/>
<text x="133.66" y="585" font-family='"Liberation Serif", serif' font-size="10.2" font-weight="normal" text-anchor="middle" fill="#161616" stroke="#161616" stroke-width="0.12" >0.2</text>
<line x1="167.12" y1="570.5" x2="167.12" y2="574.8" stroke="#555" stroke-width="1"/>
<text x="167.12" y="585" font-family='"Liberation Serif", serif' font-size="10.2" font-weight="normal" text-anchor="middle" fill="#161616" stroke="#161616" stroke-width="0.12" >0.4</text>
<line x1="200.58" y1="570.5" x2="200.58" y2="574.8" stroke="#555" stroke-width="1"/>
<text x="200.58" y="585" font-family='"Liberation Serif", serif' font-size="10.2" font-weight="normal" text-anchor="middle" fill="#161616" stroke="#161616" stroke-width="0.12" >0.6</text>
<line x1="234.04" y1="570.5" x2="234.04" y2="574.8" stroke="#555" stroke-width="1"/>
<text x="234.04" y="585" font-family='"Liberation Serif", serif' font-size="10.2" font-weight="normal" text-anchor="middle" fill="#161616" stroke="#161616" stroke-width="0.12" >0.8</text>
<line x1="267.5" y1="570.5" x2="267.5" y2="574.8" stroke="#555" stroke-width="1"/>
<text x="267.5" y="585" font-family='"Liberation Serif", serif' font-size="10.2" font-weight="normal" text-anchor="middle" fill="#161616" stroke="#161616" stroke-width="0.12" >1.0</text>
<line x1="300.96" y1="570.5" x2="300.96" y2="574.8" stroke="#555" stroke-width="1"/>
<text x="300.96" y="585" font-family='"Liberation Serif", serif' font-size="10.2" font-weight="normal" text-anchor="middle" fill="#161616" stroke="#161616" stroke-width="0.12" >1.2</text>
<text x="202" y="607.2" font-family='"Liberation Sans", sans-serif' font-size="11.5" font-weight="normal" text-anchor="middle" fill="#161616" stroke="#161616" stroke-width="0.28" >Coefficient of Variation</text>
<text x="59.6" y="467.3" font-family='"Liberation Sans", sans-serif' font-size="11.7" font-weight="normal" text-anchor="middle" fill="#161616" stroke="#161616" stroke-width="0.28" transform="rotate(-90 59.6 467.3)">Density (arbitrary units)</text>
<line x1="100" y1="562.5" x2="317.8" y2="562.5" stroke="#e6e6e6" stroke-width="1"/>
<path d="M116,562.5 C117.37,562.42 122.03,564.78 124.2,562 C126.37,559.22 127.65,555.75 129,545.8 C130.35,535.85 131.38,514.63 132.3,502.3 C133.22,489.97 133.72,482.18 134.5,471.8 C135.28,461.42 136.13,450.3 137,440 C137.87,429.7 138.87,417.83 139.7,410 C140.53,402.17 141.2,396.75 142,393 C142.8,389.25 143.67,388 144.5,387.5 C145.33,387 146.17,388.25 147,390 C147.83,391.75 148.62,394.58 149.5,398 C150.38,401.42 151.33,404 152.3,410.5 C153.27,417 154.23,426.78 155.3,437 C156.37,447.22 157.3,460.92 158.7,471.8 C160.1,482.68 162.2,492.38 163.7,502.3 C165.2,512.22 166.22,524.85 167.7,531.3 C169.18,537.75 171.03,538.32 172.6,541 C174.17,543.68 175.77,547.67 177.1,547.4 C178.43,547.13 179.33,539.67 180.6,539.4 C181.87,539.13 183.48,542.72 184.7,545.8 C185.92,548.88 186.43,555.62 187.9,557.9 C189.37,560.18 191.48,558.9 193.5,559.5 C195.52,560.1 196.65,561.32 200,561.5 C203.35,561.68 207.97,560.88 213.6,560.6 C219.23,560.32 226.07,559.6 233.8,559.8 C241.53,560 246,561.38 260,561.8 C274,562.22 308.17,562.22 317.8,562.3" fill="none" stroke="#000000" stroke-width="2.1" stroke-linejoin="round" stroke-linecap="round"/>
<path d="M117,562.5 C118.33,562.42 122.83,564.78 125,562 C127.17,559.22 128.62,555.75 130,545.8 C131.38,535.85 132.38,514.63 133.3,502.3 C134.22,489.97 134.72,482.18 135.5,471.8 C136.28,461.42 137.17,450.3 138,440 C138.83,429.7 139.72,418 140.5,410 C141.28,402 142,395.87 142.7,392 C143.4,388.13 143.98,387.3 144.7,386.8 C145.42,386.3 146.2,387.3 147,389 C147.8,390.7 148.53,393.42 149.5,397 C150.47,400.58 151.72,403.83 152.8,410.5 C153.88,417.17 154.92,426.78 156,437 C157.08,447.22 157.97,461.3 159.3,471.8 C160.63,482.3 162.63,490.97 164,500 C165.37,509.03 166.42,520.92 167.5,526 C168.58,531.08 169.42,529.5 170.5,530.5 C171.58,531.5 172.58,532.67 174,532 C175.42,531.33 177.35,524.73 179,526.5 C180.65,528.27 182.57,537.85 183.9,542.6 C185.23,547.35 185.93,552.05 187,555 C188.07,557.95 188.13,559.17 190.3,560.3 C192.47,561.43 195.05,561.68 200,561.8 C204.95,561.92 213.33,561.05 220,561 C226.67,560.95 223.7,561.28 240,561.5 C256.3,561.72 304.83,562.17 317.8,562.3" fill="none" stroke="#9a9a9a" stroke-width="2.1" stroke-linejoin="round" stroke-linecap="round"/>
<path d="M120,562.5 C121.67,562.17 127.83,562.42 130,560.5 C132.17,558.58 131.95,558.02 133,551 C134.05,543.98 135.23,531.6 136.3,518.4 C137.37,505.2 138.35,483.87 139.4,471.8 C140.45,459.73 141.53,454.07 142.6,446 C143.67,437.93 144.73,430.9 145.8,423.4 C146.87,415.9 147.87,406.13 149,401 C150.13,395.87 151.52,393.1 152.6,392.6 C153.68,392.1 154.62,392.87 155.5,398 C156.38,403.13 157.03,415.23 157.9,423.4 C158.77,431.57 159.77,438.93 160.7,447 C161.63,455.07 162.33,463.13 163.5,471.8 C164.67,480.47 165.92,489.88 167.7,499 C169.48,508.12 172.32,520.58 174.2,526.5 C176.08,532.42 177.65,532.08 179,534.5 C180.35,536.92 180.95,539.38 182.3,541 C183.65,542.62 185.5,542.32 187.1,544.2 C188.7,546.08 189.75,550.28 191.9,552.3 C194.05,554.32 197.5,555.1 200,556.3 C202.5,557.5 203.9,558.63 206.9,559.5 C209.9,560.37 210.82,561.17 218,561.5 C225.18,561.83 243,561.67 250,561.5 C257,561.33 256.67,560.5 260,560.5 C263.33,560.5 260.37,561.25 270,561.5 C279.63,561.75 309.83,561.92 317.8,562" fill="none" stroke="#2343a0" stroke-width="2.1" stroke-linejoin="round" stroke-linecap="round"/>
<path d="M117.6,562.5 C119.1,562.13 124.62,562.38 126.6,560.3 C128.58,558.22 128.55,554.83 129.5,550 C130.45,545.17 131.38,539.63 132.3,531.3 C133.22,522.97 134.1,509.92 135,500 C135.9,490.08 136.78,480.3 137.7,471.8 C138.62,463.3 139.53,455.97 140.5,449 C141.47,442.03 142.48,434.23 143.5,430 C144.52,425.77 145.6,423.93 146.6,423.6 C147.6,423.27 148.55,425.88 149.5,428 C150.45,430.12 151.3,433.47 152.3,436.3 C153.3,439.13 154.43,441.78 155.5,445 C156.57,448.22 157.5,451.13 158.7,455.6 C159.9,460.07 161.2,464.02 162.7,471.8 C164.2,479.58 165.78,494 167.7,502.3 C169.62,510.6 172.32,517.32 174.2,521.6 C176.08,525.88 177.65,525.32 179,528 C180.35,530.68 180.95,534.87 182.3,537.7 C183.65,540.53 185.23,542.85 187.1,545 C188.97,547.15 191.32,549.3 193.5,550.6 C195.68,551.9 197.97,551.68 200.2,552.8 C202.43,553.92 203.93,556.47 206.9,557.3 C209.87,558.13 214.27,557.8 218,557.8 C221.73,557.8 225.55,557.02 229.3,557.3 C233.05,557.58 235.72,558.92 240.5,559.5 C245.28,560.08 251.42,560.47 258,560.8 C264.58,561.13 270.03,561.3 280,561.5 C289.97,561.7 311.5,561.92 317.8,562" fill="none" stroke="#3fb556" stroke-width="2.1" stroke-linejoin="round" stroke-linecap="round"/>
<path d="M120,562.5 C122.05,562.33 128.78,563.48 132.3,561.5 C135.82,559.52 138.55,555.1 141.1,550.6 C143.65,546.1 145.45,541.22 147.6,534.5 C149.75,527.78 151.98,517.55 154,510.3 C156.02,503.05 157.95,495.83 159.7,491 C161.45,486.17 162.75,483.52 164.5,481.3 C166.25,479.08 168.32,477.97 170.2,477.7 C172.08,477.43 174.17,478.75 175.8,479.7 C177.43,480.65 178.78,482.07 180,483.4 C181.22,484.73 181.6,484.9 183.1,487.7 C184.6,490.5 186.53,495.88 189,500.2 C191.47,504.52 194.92,509.13 197.9,513.6 C200.88,518.07 203.53,521.97 206.9,527 C210.27,532.03 214.37,539.87 218.1,543.8 C221.83,547.73 225.57,548.73 229.3,550.6 C233.03,552.47 236.4,553.7 240.5,555 C244.6,556.3 249.05,557.83 253.9,558.4 C258.75,558.97 265.12,558.1 269.6,558.4 C274.08,558.7 276.32,559.75 280.8,560.2 C285.28,560.65 290.33,560.83 296.5,561.1 C302.67,561.37 314.25,561.68 317.8,561.8" fill="none" stroke="#e8232a" stroke-width="2.1" stroke-linejoin="round" stroke-linecap="round"/>
<path d="M106.5,562.5 C109.45,562.27 119.9,561.87 124.2,561.1 C128.5,560.33 129.62,559.92 132.3,557.9 C134.98,555.88 137.62,553.17 140.3,549 C142.98,544.83 145.7,538 148.4,532.9 C151.1,527.8 153.82,522.03 156.5,518.4 C159.18,514.77 162.08,512.63 164.5,511.1 C166.92,509.57 168.32,509.2 171,509.2 C173.68,509.2 177.38,509.97 180.6,511.1 C183.82,512.23 187.07,514.3 190.3,516 C193.53,517.7 197.23,519.72 200,521.3 C202.77,522.88 202.77,522.68 206.9,525.5 C211.03,528.32 219.58,535.15 224.8,538.2 C230.02,541.25 233.72,542.48 238.2,543.8 C242.68,545.12 247.22,544.97 251.7,546.1 C256.18,547.23 260.25,549.12 265.1,550.6 C269.95,552.08 275.57,553.88 280.8,555 C286.03,556.12 290.33,556.92 296.5,557.3 C302.67,557.68 314.25,557.3 317.8,557.3" fill="none" stroke="#f5a01e" stroke-width="2.1" stroke-linejoin="round" stroke-linecap="round"/>
<rect x="202.1" y="368.7" width="115.8" height="87.4" fill="#fff" stroke="#555" stroke-width="0.8"/>
<line x1="211.6" y1="381.2" x2="230.8" y2="381.2" stroke="#000000" stroke-width="2" stroke-linecap="round"/>
<text x="239.7" y="384.8" font-family='"Liberation Serif", serif' font-size="10.4" font-weight="normal" text-anchor="start" fill="#111" stroke="#111" stroke-width="0.12" >Simulated</text>
<line x1="211.6" y1="393.72" x2="230.8" y2="393.72" stroke="#9a9a9a" stroke-width="2" stroke-linecap="round"/>
<text x="239.7" y="397.32" font-family='"Liberation Serif", serif' font-size="10.4" font-weight="normal" text-anchor="start" fill="#111" stroke="#111" stroke-width="0.12" >QM−Simulated</text>
<line x1="211.6" y1="406.24" x2="230.8" y2="406.24" stroke="#2343a0" stroke-width="2" stroke-linecap="round"/>
<text x="239.7" y="409.84" font-family='"Liberation Serif", serif' font-size="10.4" font-weight="normal" text-anchor="start" fill="#111" stroke="#111" stroke-width="0.12" >Plasmid</text>
<line x1="211.6" y1="418.76" x2="230.8" y2="418.76" stroke="#3fb556" stroke-width="2" stroke-linecap="round"/>
<text x="239.7" y="422.36" font-family='"Liberation Serif", serif' font-size="10.4" font-weight="normal" text-anchor="start" fill="#111" stroke="#111" stroke-width="0.12" >No Select</text>
<line x1="211.6" y1="431.28" x2="230.8" y2="431.28" stroke="#e8232a" stroke-width="2" stroke-linecap="round"/>
<text x="239.7" y="434.88" font-family='"Liberation Serif", serif' font-size="10.4" font-weight="normal" text-anchor="start" fill="#111" stroke="#111" stroke-width="0.12" >rRNA−Depleted</text>
<line x1="211.6" y1="443.8" x2="230.8" y2="443.8" stroke="#f5a01e" stroke-width="2" stroke-linecap="round"/>
<text x="239.7" y="447.4" font-family='"Liberation Serif", serif' font-size="10.4" font-weight="normal" text-anchor="start" fill="#111" stroke="#111" stroke-width="0.12" >PolyA</text>
<text x="341.4" y="364.2" font-family='"Liberation Sans", sans-serif' font-size="16" font-weight="bold" text-anchor="start" fill="#000" >C</text>
<text x="435.6" y="394.4" font-family='"Liberation Sans", sans-serif' font-size="11.6" font-weight="normal" text-anchor="middle" fill="#161616" stroke="#161616" stroke-width="0.28" >Effect size between libraries and</text>
<text x="435.5" y="408.8" font-family='"Liberation Sans", sans-serif' font-size="11.6" font-weight="normal" text-anchor="middle" fill="#161616" stroke="#161616" stroke-width="0.28" >simulated data</text>
<path d="M392.5,422.07 L392.5,558.5 L497.4,558.5" fill="none" stroke="#555" stroke-width="1"/>
<line x1="386.5" y1="558.5" x2="392.5" y2="558.5" stroke="#555" stroke-width="1"/>
<text x="379.3" y="558.5" font-family='"Liberation Sans", sans-serif' font-size="9.6" font-weight="normal" text-anchor="middle" fill="#222" transform="rotate(-90 379.3 558.5)">0</text>
<line x1="386.5" y1="539.01" x2="392.5" y2="539.01" stroke="#555" stroke-width="1"/>
<text x="379.3" y="539.01" font-family='"Liberation Sans", sans-serif' font-size="9.6" font-weight="normal" text-anchor="middle" fill="#222" transform="rotate(-90 379.3 539.01)">1</text>
<line x1="386.5" y1="519.52" x2="392.5" y2="519.52" stroke="#555" stroke-width="1"/>
<text x="379.3" y="519.52" font-family='"Liberation Sans", sans-serif' font-size="9.6" font-weight="normal" text-anchor="middle" fill="#222" transform="rotate(-90 379.3 519.52)">2</text>
<line x1="386.5" y1="500.03" x2="392.5" y2="500.03" stroke="#555" stroke-width="1"/>
<text x="379.3" y="500.03" font-family='"Liberation Sans", sans-serif' font-size="9.6" font-weight="normal" text-anchor="middle" fill="#222" transform="rotate(-90 379.3 500.03)">3</text>
<line x1="386.5" y1="480.54" x2="392.5" y2="480.54" stroke="#555" stroke-width="1"/>
<text x="379.3" y="480.54" font-family='"Liberation Sans", sans-serif' font-size="9.6" font-weight="normal" text-anchor="middle" fill="#222" transform="rotate(-90 379.3 480.54)">4</text>
<line x1="386.5" y1="461.05" x2="392.5" y2="461.05" stroke="#555" stroke-width="1"/>
<text x="379.3" y="461.05" font-family='"Liberation Sans", sans-serif' font-size="9.6" font-weight="normal" text-anchor="middle" fill="#222" transform="rotate(-90 379.3 461.05)">5</text>
<line x1="386.5" y1="441.56" x2="392.5" y2="441.56" stroke="#555" stroke-width="1"/>
<text x="379.3" y="441.56" font-family='"Liberation Sans", sans-serif' font-size="9.6" font-weight="normal" text-anchor="middle" fill="#222" transform="rotate(-90 379.3 441.56)">6</text>
<line x1="386.5" y1="422.07" x2="392.5" y2="422.07" stroke="#555" stroke-width="1"/>
<text x="379.3" y="422.07" font-family='"Liberation Sans", sans-serif' font-size="9.6" font-weight="normal" text-anchor="middle" fill="#222" transform="rotate(-90 379.3 422.07)">7</text>
<text x="350" y="484.1" font-family='"Liberation Sans", sans-serif' font-size="9.33" font-weight="normal" text-anchor="middle" fill="#161616" stroke="#161616" stroke-width="0.28" transform="rotate(-90 350 484.1)">Ratio of coefficients of</text>
<text x="361.2" y="484.4" font-family='"Liberation Sans", sans-serif' font-size="9.33" font-weight="normal" text-anchor="middle" fill="#161616" stroke="#161616" stroke-width="0.28" transform="rotate(-90 361.2 484.4)">variation</text>
<line x1="408.95" y1="528.5" x2="408.95" y2="534.2" stroke="#222" stroke-width="0.8" stroke-dasharray="2,1.6"/>
<line x1="408.95" y1="538.7" x2="408.95" y2="544.2" stroke="#222" stroke-width="0.8" stroke-dasharray="2,1.6"/>
<line x1="404.07" y1="528.5" x2="413.82" y2="528.5" stroke="#444" stroke-width="0.9"/>
<line x1="404.07" y1="544.2" x2="413.82" y2="544.2" stroke="#444" stroke-width="0.9"/>
<rect x="399.2" y="534.2" width="19.5" height="4.5" fill="#2446a4" stroke="#222" stroke-width="0.8"/>
<line x1="399.2" y1="537" x2="418.7" y2="537" stroke="#000" stroke-width="1.6"/>
<circle cx="408.95" cy="528" r="0.95" fill="#111"/>
<circle cx="408.95" cy="526" r="0.95" fill="#111"/>
<circle cx="408.95" cy="524" r="0.95" fill="#111"/>
<circle cx="408.95" cy="522" r="0.95" fill="#111"/>
<circle cx="408.95" cy="520" r="0.95" fill="#111"/>
<circle cx="408.95" cy="518" r="0.95" fill="#111"/>
<circle cx="408.95" cy="516" r="0.95" fill="#111"/>
<circle cx="408.95" cy="514" r="0.95" fill="#111"/>
<circle cx="408.95" cy="512" r="0.95" fill="#111"/>
<circle cx="408.95" cy="510" r="0.95" fill="#111"/>
<circle cx="408.95" cy="508" r="0.95" fill="#111"/>
<circle cx="408.95" cy="506" r="0.95" fill="#111"/>
<circle cx="408.95" cy="503.5" r="0.95" fill="#111"/>
<circle cx="408.95" cy="501.8" r="0.95" fill="#111"/>
<circle cx="408.95" cy="488.7" r="0.95" fill="#111"/>
<circle cx="408.95" cy="472.2" r="0.95" fill="#111"/>
<line x1="433.15" y1="518.8" x2="433.15" y2="532" stroke="#222" stroke-width="0.8" stroke-dasharray="2,1.6"/>
<line x1="433.15" y1="540.8" x2="433.15" y2="547.6" stroke="#222" stroke-width="0.8" stroke-dasharray="2,1.6"/>
<line x1="428.27" y1="518.8" x2="438.02" y2="518.8" stroke="#444" stroke-width="0.9"/>
<line x1="428.27" y1="547.6" x2="438.02" y2="547.6" stroke="#444" stroke-width="0.9"/>
<rect x="423.4" y="532" width="19.5" height="8.8" fill="#4db05b" stroke="#222" stroke-width="0.8"/>
<line x1="423.4" y1="536.6" x2="442.9" y2="536.6" stroke="#000" stroke-width="1.8"/>
<circle cx="433.15" cy="517" r="0.95" fill="#111"/>
<circle cx="433.15" cy="515" r="0.95" fill="#111"/>
<circle cx="433.15" cy="513" r="0.95" fill="#111"/>
<circle cx="433.15" cy="511" r="0.95" fill="#111"/>
<circle cx="433.15" cy="509" r="0.95" fill="#111"/>
<circle cx="433.15" cy="507" r="0.95" fill="#111"/>
<circle cx="433.15" cy="505" r="0.95" fill="#111"/>
<circle cx="433.15" cy="503" r="0.95" fill="#111"/>
<circle cx="433.15" cy="501" r="0.95" fill="#111"/>
<circle cx="433.15" cy="499" r="0.95" fill="#111"/>
<circle cx="433.15" cy="497" r="0.95" fill="#111"/>
<circle cx="433.15" cy="495" r="0.95" fill="#111"/>
<circle cx="433.15" cy="493" r="0.95" fill="#111"/>
<circle cx="433.15" cy="491" r="0.95" fill="#111"/>
<circle cx="433.15" cy="488" r="0.95" fill="#111"/>
<circle cx="433.15" cy="482.5" r="0.95" fill="#111"/>
<circle cx="433.15" cy="476.6" r="0.95" fill="#111"/>
<circle cx="433.15" cy="474.8" r="0.95" fill="#111"/>
<circle cx="433.15" cy="467.7" r="0.95" fill="#111"/>
<circle cx="433.15" cy="465.6" r="0.95" fill="#111"/>
<line x1="457.2" y1="495.2" x2="457.2" y2="517.9" stroke="#222" stroke-width="0.8" stroke-dasharray="2,1.6"/>
<line x1="457.2" y1="533.6" x2="457.2" y2="547.8" stroke="#222" stroke-width="0.8" stroke-dasharray="2,1.6"/>
<line x1="452.35" y1="495.2" x2="462.05" y2="495.2" stroke="#444" stroke-width="0.9"/>
<line x1="452.35" y1="547.8" x2="462.05" y2="547.8" stroke="#444" stroke-width="0.9"/>
<rect x="447.5" y="517.9" width="19.4" height="15.7" fill="#e3262c" stroke="#222" stroke-width="0.8"/>
<line x1="447.5" y1="526.8" x2="466.9" y2="526.8" stroke="#000" stroke-width="1.8"/>
<circle cx="457.2" cy="493.5" r="0.95" fill="#111"/>
<circle cx="457.2" cy="491.5" r="0.95" fill="#111"/>
<circle cx="457.2" cy="489.5" r="0.95" fill="#111"/>
<circle cx="457.2" cy="487.5" r="0.95" fill="#111"/>
<circle cx="457.2" cy="485.5" r="0.95" fill="#111"/>
<circle cx="457.2" cy="483" r="0.95" fill="#111"/>
<circle cx="457.2" cy="481" r="0.95" fill="#111"/>
<circle cx="457.2" cy="478" r="0.95" fill="#111"/>
<circle cx="457.2" cy="476" r="0.95" fill="#111"/>
<circle cx="457.2" cy="474" r="0.95" fill="#111"/>
<circle cx="457.2" cy="472" r="0.95" fill="#111"/>
<circle cx="457.2" cy="469" r="0.95" fill="#111"/>
<circle cx="457.2" cy="467" r="0.95" fill="#111"/>
<circle cx="457.2" cy="464" r="0.95" fill="#111"/>
<circle cx="457.2" cy="461.8" r="0.95" fill="#111"/>
<line x1="481.5" y1="454.8" x2="481.5" y2="502.2" stroke="#222" stroke-width="0.8" stroke-dasharray="2,1.6"/>
<line x1="481.5" y1="534.7" x2="481.5" y2="549.5" stroke="#222" stroke-width="0.8" stroke-dasharray="2,1.6"/>
<line x1="476.55" y1="454.8" x2="486.45" y2="454.8" stroke="#444" stroke-width="0.9"/>
<line x1="476.55" y1="549.5" x2="486.45" y2="549.5" stroke="#444" stroke-width="0.9"/>
<rect x="471.6" y="502.2" width="19.8" height="32.5" fill="#f39a2e" stroke="#222" stroke-width="0.8"/>
<line x1="471.6" y1="521.9" x2="491.4" y2="521.9" stroke="#000" stroke-width="1.8"/>
<circle cx="481.5" cy="453" r="0.95" fill="#111"/>
<circle cx="481.5" cy="451" r="0.95" fill="#111"/>
<circle cx="481.5" cy="449" r="0.95" fill="#111"/>
<circle cx="481.5" cy="447" r="0.95" fill="#111"/>
<circle cx="481.5" cy="445" r="0.95" fill="#111"/>
<circle cx="481.5" cy="443" r="0.95" fill="#111"/>
<circle cx="481.5" cy="441" r="0.95" fill="#111"/>
<circle cx="481.5" cy="439" r="0.95" fill="#111"/>
<circle cx="481.5" cy="436.5" r="0.95" fill="#111"/>
<circle cx="481.5" cy="434.5" r="0.95" fill="#111"/>
<circle cx="481.5" cy="432" r="0.95" fill="#111"/>
<circle cx="481.5" cy="429.5" r="0.95" fill="#111"/>
<circle cx="481.5" cy="427" r="0.95" fill="#111"/>
<circle cx="481.5" cy="424.4" r="0.95" fill="#111"/>
<circle cx="409" cy="545.2" r="1.05" fill="#111"/>
<text x="411" y="566" font-family='"Liberation Sans", sans-serif' font-size="9" font-weight="normal" text-anchor="end" fill="#111" stroke="#111" stroke-width="0.28" transform="rotate(-53 411 566)">Plasmid</text>
<text x="435.2" y="566" font-family='"Liberation Sans", sans-serif' font-size="9" font-weight="normal" text-anchor="end" fill="#111" stroke="#111" stroke-width="0.28" transform="rotate(-53 435.2 566)">No Select</text>
<text x="459.2" y="566" font-family='"Liberation Sans", sans-serif' font-size="9" font-weight="normal" text-anchor="end" fill="#111" stroke="#111" stroke-width="0.28" transform="rotate(-53 459.2 566)">rRNA-Depleted</text>
<text x="483.5" y="566" font-family='"Liberation Sans", sans-serif' font-size="9" font-weight="normal" text-anchor="end" fill="#111" stroke="#111" stroke-width="0.28" transform="rotate(-53 483.5 566)">PolyA</text>
</svg>
</body></html>
